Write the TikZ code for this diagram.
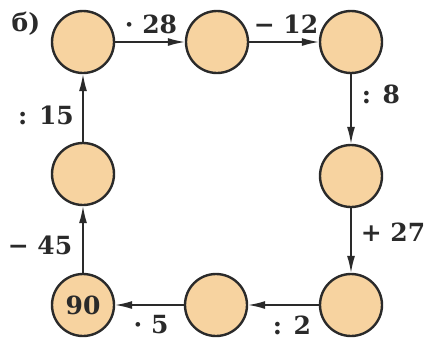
\documentclass[tikz,border=0pt]{standalone}
\usepackage{fontspec}
\setmainfont{DejaVu Serif}
\usetikzlibrary{arrows.meta}
\definecolor{circfill}{HTML}{F7D3A0}
\definecolor{ink}{HTML}{2A2A2A}
\tikzset{
  num/.style={circle,draw=ink,fill=circfill,line width=2.4pt,minimum size=62pt,inner sep=0pt,font=\fontsize{25}{30}\selectfont\bfseries,text=ink},
  conn/.style={draw=ink,line width=1.4pt,-{Latex[length=17pt,width=8pt]}},
  lab/.style={font=\fontsize{25}{30}\selectfont\bfseries,text=ink,inner sep=0pt}
}
\begin{document}
\begin{tikzpicture}[x=1pt,y=-1pt]
\useasboundingbox (0,0) rectangle (425,341);
\fill[white] (0,0) rectangle (425,341);
\node[num] (a) at (83,42) {};
\node[num] (b) at (217,42) {};
\node[num] (c) at (351,42) {};
\node[num] (d) at (351,176) {};
\node[num] (e) at (351,305) {};
\node[num] (f) at (216,305) {};
\node[num] (g) at (83,305) {90};
\node[num] (h) at (83,174) {};
\draw[conn] (a) -- (b);
\draw[conn] (b) -- (c);
\draw[conn] (c) -- (d);
\draw[conn] (d) -- (e);
\draw[conn] (e) -- (f);
\draw[conn] (f) -- (g);
\draw[conn] (g) -- (h);
\draw[conn] (h) -- (a);
\node[lab] (l0) at (26,24) {б)};
\node[lab] (l1) at (151,24) {· 28};
\node[lab] (l2) at (286,24) {− 12};
\node[lab] (l3) at (381,94) {: 8};
\node[lab] (l4) at (46,115) {: 15};
\node[lab] (l5) at (40,245) {− 45};
\node[lab] (l6) at (393,232) {+ 27};
\node[lab] (l7) at (151,325) {· 5};
\node[lab] (l8) at (292,325) {: 2};
\end{tikzpicture}
\end{document}
